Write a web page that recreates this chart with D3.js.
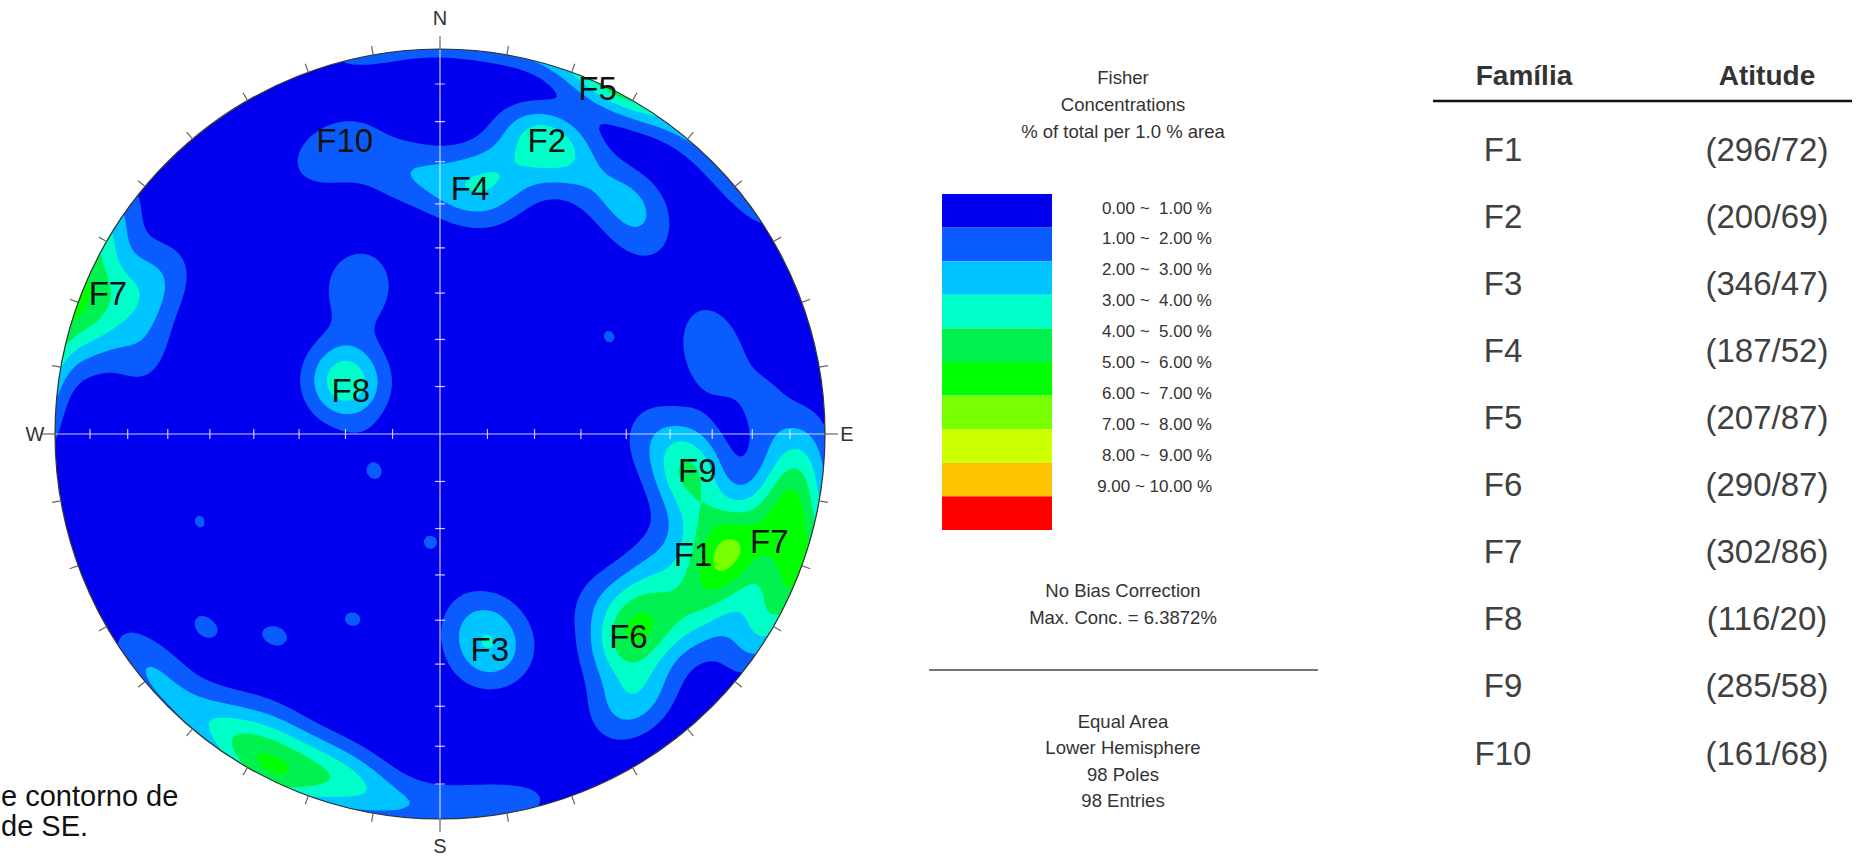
<!DOCTYPE html>
<html>
<head>
<meta charset="utf-8">
<script src="https://cdn.jsdelivr.net/npm/d3@7"></script>
<style>
  body { margin: 0; background: #fff; }
  svg { display: block; font-family: "Liberation Sans", Arial, sans-serif; }
</style>
</head>
<body>
<svg id="chart" width="1868" height="856"></svg>
<script>
// Poles as [trend, plunge], grouped by area
const polesEast = [
  [114, 20], [114, 20], [114, 20], [112, 22], [110, 17], [104, 14],
  [109, 4], [109, 4], [102, 6], [102, 6], [100, 34], [100, 34], [95, 38],
  [108, 28], [108, 28], [137, 29], [139, 27], [133, 32], [128, 33], [136, 40],
  [143, 18], [143, 18], [145, 11], [121, 2], [121, 2], [117, 8], [94, 12],
  [92, 4], [84, 17], [125, 22], [105, 12], [132, 24], [122, 24], [97, 36],
  [75, 28], [70, 26], [90, 45], [120, 35], [137, 29], [98, 8], [125, 15]
];
const polesNorth = [
  [19, 19], [19, 19], [21, 20], [25, 24], [5, 36], [10, 39], [12, 32], [15, 29],
  [342, 21], [337, 24], [350, 30], [357, 34], [40, 21], [36, 25], [27, 1], [45, 28]
];
const polesSouthWest = [
  [207, 2], [207, 2], [212, 5], [201, 4], [192, 5], [216, 8], [185, 3], [176, 4],
  [205, 10], [198, 12], [220, 3], [168, 2], [228, 3], [233, 3], [210, 14], [195, 8]
];
const polesF3 = [[166, 38], [168, 42], [166, 46], [169, 50]];
const polesF8 = [[299, 69], [299, 69], [296, 66], [329, 57], [333, 51], [303, 64]];
const polesWest = [[292, 1], [288, 4], [287, 9], [297, 12], [292, 16], [299, 20], [285, 22], [293, 5]];
const polesSingle = [[60, 48], [240, 74], [250, 34], [231, 22], [219, 33], [205, 46], [185, 67]];

// family labels placed on the net as [name, trend, plunge]
const familyLabels = [
  ["F10", 342, 21], ["F2", 20, 20], ["F5", 24.5, 1.5], ["F4", 7, 36],
  ["F7", 293, 7], ["F8", 296, 69], ["F9", 98, 33], ["F1", 115.5, 28],
  ["F7", 108, 11], ["F6", 137, 29], ["F3", 167, 42]
];

// legend bins
const binLabels = [
  "0.00 ~  1.00 %", "1.00 ~  2.00 %", "2.00 ~  3.00 %", "3.00 ~  4.00 %", "4.00 ~  5.00 %",
  "5.00 ~  6.00 %", "6.00 ~  7.00 %", "7.00 ~  8.00 %", "8.00 ~  9.00 %", "9.00 ~ 10.00 %"
];
const binColors = [
  "#0000ee", "#0a5cff", "#00c4ff", "#00ffc8", "#00f050",
  "#00ff00", "#78ff00", "#ccff00", "#ffc400", "#ff0000"
];
const legendTitle = ["Fisher", "Concentrations", "% of total per 1.0 % area"];
const legendNotes = ["No Bias Correction", "Max. Conc. = 6.3872%"];
const legendInfo = ["Equal Area", "Lower Hemisphere", "98 Poles", "98 Entries"];

// table
const familias = ["F1", "F2", "F3", "F4", "F5", "F6", "F7", "F8", "F9", "F10"];
const atitudes = ["(296/72)", "(200/69)", "(346/47)", "(187/52)", "(207/87)",
                  "(290/87)", "(302/86)", "(116/20)", "(285/58)", "(161/68)"];

const svg = d3.select("#chart");

// ---- stereonet ----
const cx = 440, cy = 434, R = 385;
const kappa = 100;
const poles = [].concat(polesEast, polesNorth, polesSouthWest, polesF3, polesF8, polesWest, polesSingle);

// lower hemisphere equal-area (Schmidt) net: lon = trend, lat = -plunge
const proj = d3.geoAzimuthalEqualArea()
  .rotate([0, 90])
  .scale(R / Math.SQRT2)
  .translate([cx, cy]);
const place = (trend, plunge) => proj([trend, -plunge]);

const rad = Math.PI / 180;
function toVec(trend, plunge) {
  const t = trend * rad, p = plunge * rad;
  return [Math.cos(p) * Math.sin(t), Math.cos(p) * Math.cos(t), Math.sin(p)];
}
const poleVecs = poles.map(d => toVec(d[0], d[1]));

// Fisher density grid, in % of total per 1 % area
const step = 4;
const x0 = cx - R - 12, y0 = cy - R - 12;
const nx = Math.ceil((2 * R + 24) / step) + 1, ny = nx;
const values = new Array(nx * ny);
for (let j = 0; j < ny; j++) {
  for (let i = 0; i < nx; i++) {
    const ll = proj.invert([x0 + i * step, y0 + j * step]);
    const v = toVec(ll[0], -ll[1]);
    let s = 0;
    for (const u of poleVecs) {
      const dot = Math.abs(v[0] * u[0] + v[1] * u[1] + v[2] * u[2]);
      s += Math.exp(kappa * (dot - 1));
    }
    values[j * nx + i] = s * kappa / poles.length;
  }
}

const thresholds = d3.range(1, 10);
const color = d3.scaleThreshold().domain(thresholds).range(binColors);
const contours = d3.contours().size([nx, ny]).thresholds(thresholds)(values);
const gridPath = d3.geoPath(d3.geoIdentity().scale(step).translate([x0 - step / 2, y0 - step / 2]));

svg.append("clipPath").attr("id", "net-clip")
  .append("circle").attr("cx", cx).attr("cy", cy).attr("r", R);

const net = svg.append("g");
const inside = net.append("g").attr("clip-path", "url(#net-clip)");
inside.append("circle").attr("cx", cx).attr("cy", cy).attr("r", R).attr("fill", binColors[0]);
inside.selectAll("path.band")
  .data(contours)
  .join("path")
  .attr("class", "band")
  .attr("d", gridPath)
  .attr("fill", d => color(d.value));

// axes (light lines inside the net)
const axisColor = "rgba(235,235,255,0.85)";
inside.append("line").attr("x1", cx - R).attr("x2", cx + R).attr("y1", cy).attr("y2", cy)
  .attr("stroke", axisColor).attr("stroke-width", 1.2);
inside.append("line").attr("x1", cx).attr("x2", cx).attr("y1", cy - R).attr("y2", cy + R)
  .attr("stroke", axisColor).attr("stroke-width", 1.2);

// small ticks on the axes every 10 degrees of plunge
const axisTicks = [];
[0, 90, 180, 270].forEach(t => d3.range(10, 90, 10).forEach(p => axisTicks.push([t, p])));
inside.selectAll("line.atick")
  .data(axisTicks)
  .join("line")
  .attr("class", "atick")
  .each(function (d) {
    const [x, y] = place(d[0], d[1]);
    const vertical = d[0] === 90 || d[0] === 270;
    d3.select(this)
      .attr("x1", vertical ? x : x - 5).attr("x2", vertical ? x : x + 5)
      .attr("y1", vertical ? y - 5 : y).attr("y2", vertical ? y + 5 : y);
  })
  .attr("stroke", axisColor).attr("stroke-width", 1.2);

// primitive circle and outside ticks
net.append("circle").attr("cx", cx).attr("cy", cy).attr("r", R)
  .attr("fill", "none").attr("stroke", "#333").attr("stroke-width", 1.2);

net.selectAll("line.rtick")
  .data(d3.range(0, 360, 10))
  .join("line")
  .attr("class", "rtick")
  .each(function (t) {
    const [x, y] = place(t, 0);
    const ux = Math.sin(t * rad), uy = -Math.cos(t * rad);
    const len = t % 90 === 0 ? 13 : 9;
    d3.select(this).attr("x1", x).attr("y1", y).attr("x2", x + ux * len).attr("y2", y + uy * len);
  })
  .attr("stroke", "#666").attr("stroke-width", 1.2);

const compass = [["N", 0, 0, -31], ["E", 90, 22, 0], ["S", 180, 0, 27], ["W", 270, -20, 0]];
net.selectAll("text.compass")
  .data(compass)
  .join("text")
  .attr("class", "compass")
  .attr("x", d => place(d[1], 0)[0] + d[2])
  .attr("y", d => place(d[1], 0)[1] + d[3])
  .attr("text-anchor", "middle")
  .attr("dominant-baseline", "central")
  .attr("font-size", 20)
  .attr("fill", "#333")
  .text(d => d[0]);

net.selectAll("text.fam")
  .data(familyLabels)
  .join("text")
  .attr("class", "fam")
  .attr("x", d => place(d[1], d[2])[0])
  .attr("y", d => place(d[1], d[2])[1])
  .attr("text-anchor", "middle")
  .attr("dominant-baseline", "central")
  .attr("font-size", 33)
  .attr("fill", "#111")
  .text(d => d[0]);

// ---- legend ----
const lg = svg.append("g").attr("fill", "#333").attr("font-size", 18.5);
const legendCx = 1123;
lg.selectAll("text.title")
  .data(legendTitle)
  .join("text")
  .attr("class", "title")
  .attr("x", legendCx)
  .attr("y", (d, i) => 77 + i * 27)
  .attr("text-anchor", "middle")
  .attr("dominant-baseline", "central")
  .text(d => d);

const yBin = d3.scaleBand().domain(d3.range(binLabels.length)).range([194, 530]);
lg.selectAll("rect.bin")
  .data(binColors)
  .join("rect")
  .attr("class", "bin")
  .attr("x", 942)
  .attr("width", 110)
  .attr("y", (d, i) => yBin(i))
  .attr("height", yBin.bandwidth())
  .attr("fill", d => d);

const yLabel = d3.scalePoint().domain(d3.range(binLabels.length)).range([208, 486]);
lg.selectAll("text.bin")
  .data(binLabels)
  .join("text")
  .attr("class", "bin")
  .attr("x", 1212)
  .attr("y", (d, i) => yLabel(i))
  .attr("text-anchor", "end")
  .attr("dominant-baseline", "central")
  .attr("font-size", 17)
  .style("white-space", "pre")
  .text(d => d);

lg.selectAll("text.note")
  .data(legendNotes)
  .join("text")
  .attr("class", "note")
  .attr("x", legendCx)
  .attr("y", (d, i) => 590 + i * 27)
  .attr("text-anchor", "middle")
  .attr("dominant-baseline", "central")
  .text(d => d);

lg.append("line").attr("x1", 929).attr("x2", 1318).attr("y1", 670).attr("y2", 670)
  .attr("stroke", "#777").attr("stroke-width", 2);

lg.selectAll("text.info")
  .data(legendInfo)
  .join("text")
  .attr("class", "info")
  .attr("x", legendCx)
  .attr("y", (d, i) => 721 + i * 26.5)
  .attr("text-anchor", "middle")
  .attr("dominant-baseline", "central")
  .text(d => d);

// ---- table ----
const tb = svg.append("g").attr("font-size", 33);
const colX = { head: 1524, fam: 1503, att: 1767 };
tb.append("text").attr("x", colX.head).attr("y", 75).attr("text-anchor", "middle")
  .attr("dominant-baseline", "central").attr("font-weight", "bold").attr("font-size", 28)
  .attr("fill", "#333").text("Família");
tb.append("text").attr("x", colX.att).attr("y", 75).attr("text-anchor", "middle")
  .attr("dominant-baseline", "central").attr("font-weight", "bold").attr("font-size", 28)
  .attr("fill", "#333").text("Atitude");
tb.append("line").attr("x1", 1433).attr("x2", 1852).attr("y1", 101).attr("y2", 101)
  .attr("stroke", "#111").attr("stroke-width", 2.5);

const yRow = d3.scalePoint().domain(familias).range([149, 753]);
tb.selectAll("text.fam")
  .data(familias)
  .join("text")
  .attr("class", "fam")
  .attr("x", colX.fam)
  .attr("y", d => yRow(d))
  .attr("text-anchor", "middle")
  .attr("dominant-baseline", "central")
  .attr("fill", "#404040")
  .text(d => d);
tb.selectAll("text.att")
  .data(atitudes)
  .join("text")
  .attr("class", "att")
  .attr("x", colX.att)
  .attr("y", (d, i) => yRow(familias[i]))
  .attr("text-anchor", "middle")
  .attr("dominant-baseline", "central")
  .attr("fill", "#404040")
  .text(d => d);

// ---- caption fragment (cut off at the left edge) ----
svg.append("g").attr("font-size", 29).attr("fill", "#111")
  .selectAll("text")
  .data(["e contorno de", "de SE."])
  .join("text")
  .attr("x", 1)
  .attr("y", (d, i) => 806 + i * 30)
  .text(d => d);
</script>
</body>
</html>
